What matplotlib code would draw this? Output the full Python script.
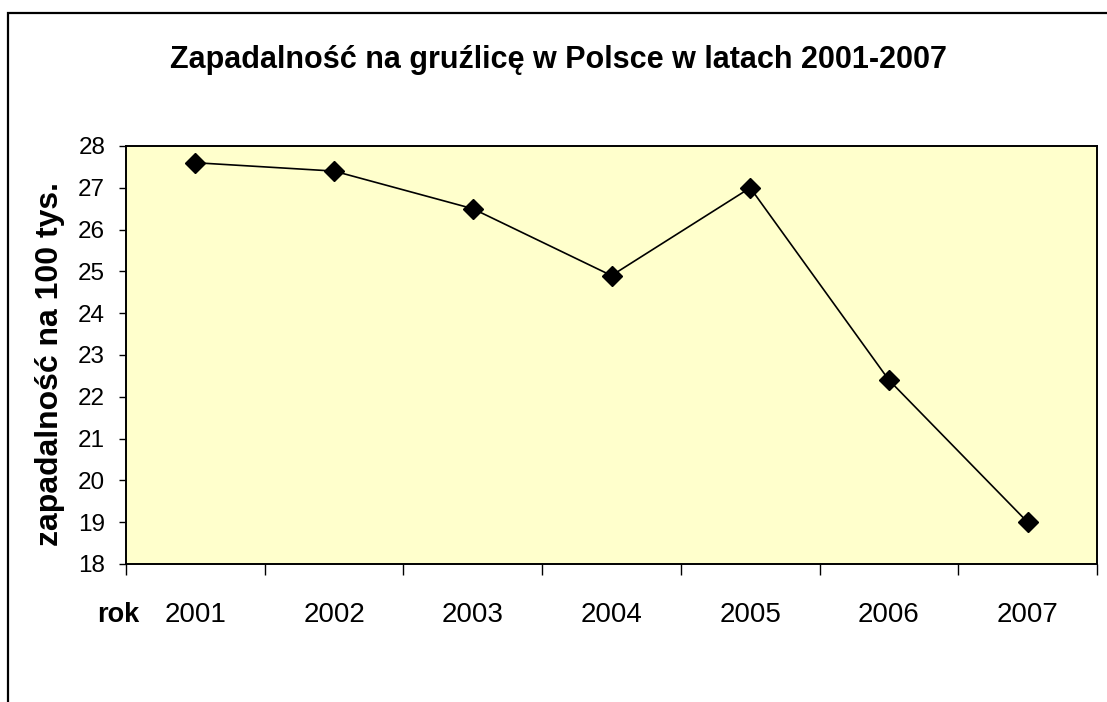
import matplotlib
matplotlib.use("Agg")
import matplotlib.pyplot as plt
from matplotlib.patches import Rectangle

# Data
years = ['2001', '2002', '2003', '2004', '2005', '2006', '2007']
incidence = [27.6, 27.4, 26.5, 24.9, 27.0, 22.4, 19.0]
y_ticks = list(range(18, 29))

plt.rcParams['font.family'] = ['Liberation Sans', 'DejaVu Sans']

W, H = 1107, 702
fig = plt.figure(figsize=(W / 100, H / 100), dpi=100)

# outer chart border (Excel style)
fig.patches.append(Rectangle((8 / W, -0.1), 1.2, 1.1 - 13 / H, transform=fig.transFigure,
                             fill=False, edgecolor='black', linewidth=1.6))

ax = fig.add_axes([126 / W, 1 - 564 / H, (1097 - 126) / W, (564 - 146) / H])
ax.set_facecolor('#FFFFCC')

x = [i + 0.5 for i in range(len(years))]
ax.plot(x, incidence, color='black', linewidth=1.2, marker='D', markersize=10,
        markerfacecolor='black', markeredgecolor='black')

ax.set_xlim(0, len(years))
ax.set_ylim(18, 28)
ax.set_yticks(y_ticks)
ax.tick_params(axis='y', direction='out', length=5, width=1, labelsize=17.5, pad=10)

# category boundaries as major ticks, labels centered on minor ticks
ax.set_xticks(range(len(years) + 1))
ax.set_xticklabels([])
ax.set_xticks(x, minor=True)
ax.set_xticklabels(years, minor=True, fontsize=20)
ax.tick_params(axis='x', which='major', direction='out', length=8, width=1)
ax.tick_params(axis='x', which='minor', length=0, pad=27.5)

for s in ax.spines.values():
    s.set_linewidth(1.4)

fig.text(50 / W, 1 - 364 / H, 'zapadalność na 100 tys.', rotation=90,
         ha='center', va='center', fontsize=23, fontweight='bold')

fig.text(559 / W, 1 - 68 / H, 'Zapadalność na gruźlicę w Polsce w latach 2001-2007',
         ha='center', va='baseline', fontsize=22, fontweight='bold')
fig.text(97 / W, 1 - 622 / H, 'rok', ha='left', va='baseline', fontsize=19.5, fontweight='bold')

fig.savefig('out.png', dpi=100)
